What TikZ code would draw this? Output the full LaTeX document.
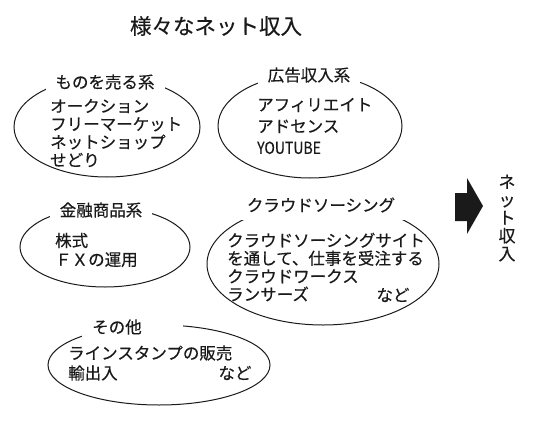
\documentclass[tikz,border=0pt]{standalone}
\usepackage{fontspec}
\usepackage{graphicx}
\newfontfamily\jpfont{Noto Sans CJK JP}[FakeBold=0.4]
\newfontfamily\jptitle{Noto Sans CJK JP}[FakeBold=0.3]
\usetikzlibrary{shapes.geometric}
\definecolor{inkblack}{HTML}{1A1A1A}

\begin{document}
\begin{tikzpicture}[x=1pt,y=-1pt,
  bubble/.style={draw=inkblack, line width=1pt, ellipse, inner sep=0pt},
  tag/.style={fill=white, inner xsep=10pt, inner ysep=2pt, text=inkblack,
    font=\jpfont\fontsize{16.5}{18}\selectfont},
  body/.style={anchor=west, align=left, inner sep=0pt, text=inkblack,
    font=\jpfont\fontsize{16.5}{18}\selectfont}]
  \useasboundingbox (0,0) rectangle (554,439);
  % title
  \node[text=inkblack, font=\jptitle\fontsize{21.5}{24}\selectfont] (title) at (216,26) {様々なネット収入};
  % bubbles
  \node[bubble, minimum width=186, minimum height=100] (goods) at (107,127) {};
  \node[bubble, minimum width=184, minimum height=104] (ads) at (310,126) {};
  \node[bubble, minimum width=170, minimum height=80] (finance) at (105,247) {};
  \node[bubble, minimum width=232, minimum height=122] (crowd) at (323,264) {};
  \node[bubble, minimum width=222, minimum height=80] (other) at (159,365) {};
  % bubble titles
  \node[tag] (goodstag) at (105,82) {ものを売る系};
  \node[tag] (adstag) at (309,75) {広告収入系};
  \node[tag] (financetag) at (101,210) {金融商品系};
  \node[tag, inner ysep=7pt] (crowdtag) at (321,205) {クラウドソーシング};
  \node[tag, anchor=west, text width=81pt, align=left] (othertag) at (82,327) {その他};
  % bubble contents
  \node[body] (goodsbody) at (50,133) {オークション\\フリーマーケット\\ネットショップ\\せどり};
  \node[body, font=\jpfont\fontsize{16.5}{21.5}\selectfont] (adsbody) at (257,126)
    {アフィリエイト\\アドセンス\\\scalebox{0.85}[1]{YOUTUBE}};
  \node[body, font=\jpfont\fontsize{16.5}{19}\selectfont] (financebody) at (55,250) {株式\\ＦＸの運用};
  \node[body] (crowdbody) at (227,267) {クラウドソーシングサイト\\を通して、仕事を受注する\\クラウドワークス\\ランサーズ};
  \node[body, anchor=center] (crowdetc) at (393,295) {など};
  \node[body, font=\jpfont\fontsize{16.5}{20}\selectfont] (otherbody) at (68,363) {ラインスタンプの販売\\輸出入};
  \node[body, anchor=center] (otheretc) at (235,373) {など};
  % block arrow
  \fill[inkblack] (455,193) -- (467,193) -- (467,178) -- (483,206) -- (467,234)
    -- (467,221) -- (455,221) -- cycle;
  \node[text=inkblack, align=center, inner sep=0pt, font=\jpfont\fontsize{17}{18}\selectfont]
    (result) at (507,218) {ネ\\ッ\\ト\\収\\入};
\end{tikzpicture}
\end{document}
